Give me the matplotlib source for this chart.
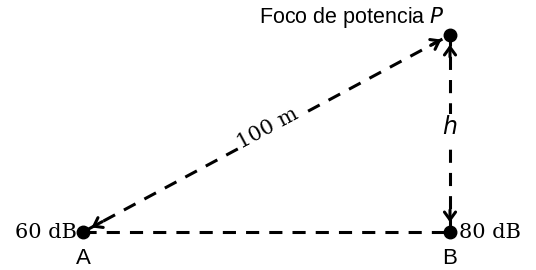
import matplotlib
matplotlib.use("Agg")
import matplotlib.pyplot as plt

# point positions in pixel space (y grows downward)
point_names = ["A", "B", "P"]
point_x = [83, 450, 450]
point_y = [232, 232, 35]

db_labels = ["60 dB", "80 dB"]
dist_label = "100 m"
height_label = "$h$"
source_label = "Foco de potencia $P$"

fig = plt.figure(figsize=(5.36, 2.70), dpi=100)
ax = fig.add_axes([0, 0, 1, 1])
ax.set_xlim(0, 536)
ax.set_ylim(270, 0)
ax.axis("off")

A = (point_x[0], point_y[0])
B = (point_x[1], point_y[1])
P = (point_x[2], point_y[2])

dash = dict(color="black", lw=2.2, linestyle=(0, (4.3, 3.3)), solid_capstyle="butt", zorder=1)
ax.plot([A[0], B[0]], [A[1], B[1]], **dash)
ax.plot([A[0], P[0]], [A[1], P[1]], **dash)
ax.plot([B[0], P[0]], [B[1], P[1]], **dash)


def head(tip, frm):
    # small solid arrowhead at tip, pointing from frm
    ax.annotate("", xy=tip, xytext=frm,
                arrowprops=dict(arrowstyle="->,head_length=0.55,head_width=0.4",
                                color="black", lw=2.2, shrinkA=0, shrinkB=7))


def toward(p, q, d):
    # point at distance d from p in direction of q
    dx, dy = q[0] - p[0], q[1] - p[1]
    n = (dx * dx + dy * dy) ** 0.5
    return (p[0] + dx / n * d, p[1] + dy / n * d)


head(A, toward(A, P, 22))
head(P, toward(P, A, 22))
head(P, toward(P, B, 22))
head(B, toward(B, P, 22))

ax.plot(point_x, point_y, "o", color="black", ms=9, zorder=3)

serif = "DejaVu Serif"
sans = "Liberation Sans"
ax.text(A[0] - 6, A[1], db_labels[0], ha="right", va="center", fontsize=15, family=serif)
ax.text(B[0] + 9, B[1], db_labels[1], ha="left", va="center", fontsize=15, family=serif)
ax.text(A[0], 258, point_names[0], ha="center", va="center", fontsize=16, family=sans)
ax.text(B[0], 258, point_names[1], ha="center", va="center", fontsize=16, family=sans)
ax.text(P[0] - 5, 18, source_label, ha="right", va="center", fontsize=15.5, family=sans)

mid = (268, 128)
ax.text(mid[0], mid[1], dist_label, ha="center", va="center", fontsize=15, family=serif,
        rotation=28.2, rotation_mode="anchor",
        bbox=dict(facecolor="white", edgecolor="none", pad=1.5), zorder=2)
ax.text(B[0], 127, height_label, ha="center", va="center", fontsize=17,
        bbox=dict(facecolor="white", edgecolor="none", pad=1.0), zorder=2)

fig.savefig("out.png", dpi=100, facecolor="white")
